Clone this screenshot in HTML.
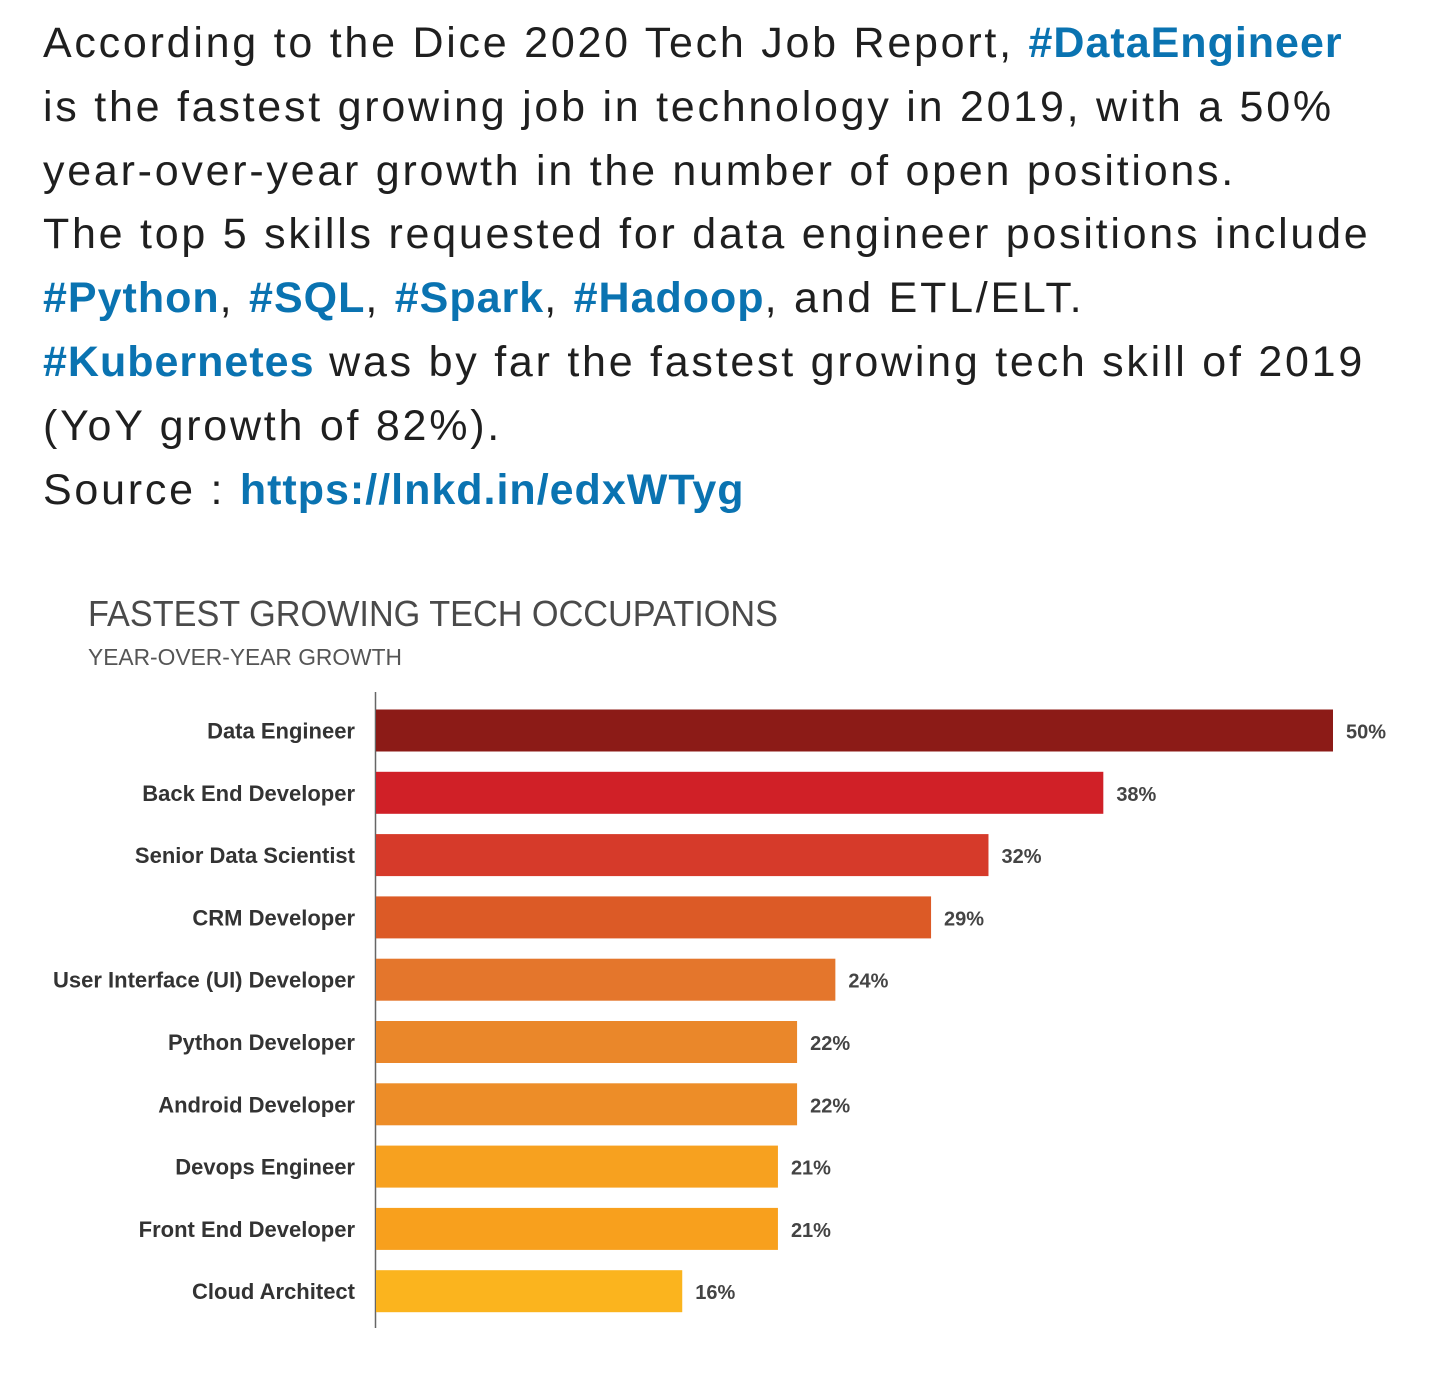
<!DOCTYPE html>
<html><head><meta charset="utf-8"><style>
html,body{margin:0;padding:0;background:#fff;width:1440px;height:1386px;overflow:hidden}
#post{position:absolute;left:43px;top:12px;width:1397px;font-family:"Liberation Sans",Roboto,sans-serif;font-size:43px;line-height:63.8px;color:#1f1f1f;letter-spacing:2.75px;white-space:nowrap}
#post a{color:#0a73b1;font-weight:bold;text-decoration:none;letter-spacing:1px}
svg{position:absolute;left:0;top:0}
</style></head><body>
<div id="post">According to the Dice 2020 Tech Job Report, <a>#DataEngineer</a><br>is the fastest growing job in technology in 2019, with a 50%<br>year-over-year growth in the number of open positions.<br>The top 5 skills requested for data engineer positions include<br><a>#Python</a>, <a>#SQL</a>, <a>#Spark</a>, <a>#Hadoop</a>, and ETL/ELT.<br><a>#Kubernetes</a> was by far the fastest growing tech skill of 2019<br>(YoY growth of 82%).<br>Source : <a>https://lnkd.in/edxWTyg</a></div>
<svg id="chart" width="1440" height="1386">
<text x="88" y="626" font-family="Liberation Sans,sans-serif" font-size="36" fill="#4a4a4a" textLength="690" lengthAdjust="spacingAndGlyphs">FASTEST GROWING TECH OCCUPATIONS</text>
<text x="88" y="665" font-family="Liberation Sans,sans-serif" font-size="23" fill="#555" textLength="314" lengthAdjust="spacingAndGlyphs">YEAR-OVER-YEAR GROWTH</text>
<line x1="375.5" y1="692" x2="375.5" y2="1328" stroke="#666" stroke-width="1.5"/>
</svg>
<script>
const categories=["Data Engineer","Back End Developer","Senior Data Scientist","CRM Developer","User Interface (UI) Developer","Python Developer","Android Developer","Devops Engineer","Front End Developer","Cloud Architect"];
const values=[50,38,32,29,24,22,22,21,21,16];
const valueLabels=["50%","38%","32%","29%","24%","22%","22%","21%","21%","16%"];
const colors=["#8c1b17","#d02027","#d63a2a","#dc5a26","#e4762c","#ea872a","#ed8d28","#f7a11f","#f8a01d","#fbb41e"];
const NS="http://www.w3.org/2000/svg";
const svg=document.getElementById('chart');
const x0=376, pxPer=(1333-376)/50;
const xs=v=>x0+v*pxPer;
const yc=i=>730.5+i*62.3;
const bh=42;
categories.forEach((c,i)=>{
  const r=document.createElementNS(NS,'rect');
  r.setAttribute('x',x0);r.setAttribute('y',yc(i)-bh/2);
  r.setAttribute('width',xs(values[i])-x0);r.setAttribute('height',bh);
  r.setAttribute('fill',colors[i]);
  
  
  svg.appendChild(r);
  const t=document.createElementNS(NS,'text');
  t.setAttribute('x',355);t.setAttribute('y',yc(i)+8);
  t.setAttribute('text-anchor','end');
  t.setAttribute('font-family','Liberation Sans,sans-serif');
  t.setAttribute('font-size','22');t.setAttribute('font-weight','bold');t.setAttribute('fill','#333');
  t.textContent=c;
  
  
  svg.appendChild(t);
  const v=document.createElementNS(NS,'text');
  v.setAttribute('x',xs(values[i])+13);v.setAttribute('y',yc(i)+8);
  v.setAttribute('font-family','Liberation Sans,sans-serif');
  v.setAttribute('font-size','20');v.setAttribute('font-weight','bold');v.setAttribute('fill','#444');
  v.textContent=valueLabels[i];
  
  
  svg.appendChild(v);
});
</script>
</body></html>
